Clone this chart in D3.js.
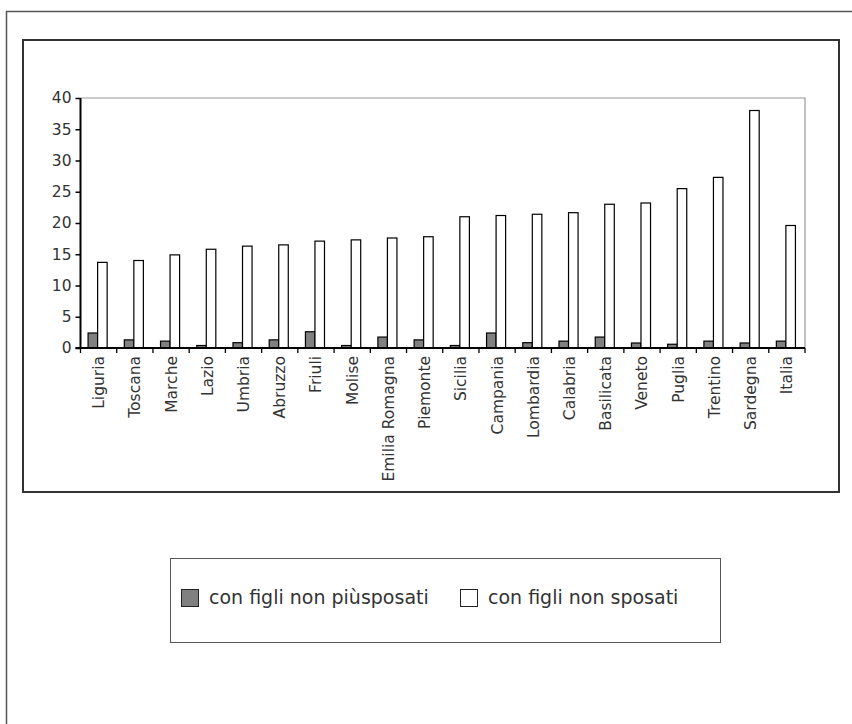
<!DOCTYPE html>
<html>
<head>
<meta charset="utf-8">
<script src="https://cdn.jsdelivr.net/npm/d3@7"></script>
<style>
  html, body { margin: 0; padding: 0; background: #fff; }
  svg { display: block; font-family: "DejaVu Sans", Verdana, sans-serif; }
</style>
</head>
<body>
<svg id="chart" width="852" height="724"></svg>
<script>
// Regions, ordered by share of households with unmarried children
const regions = ["Liguria", "Toscana", "Marche", "Lazio", "Umbria", "Abruzzo", "Friuli", "Molise",
  "Emilia Romagna", "Piemonte", "Sicilia", "Campania", "Lombardia", "Calabria", "Basilicata",
  "Veneto", "Puglia", "Trentino", "Sardegna", "Italia"];

const seriesNames = ["con figli non piùsposati", "con figli non sposati"];

const nonPiuSposati = [2.4, 1.3, 1.1, 0.4, 0.85, 1.3, 2.6, 0.4, 1.75, 1.3,
  0.4, 2.4, 0.85, 1.1, 1.75, 0.8, 0.6, 1.1, 0.8, 1.1];

const nonSposati = [13.7, 14.0, 14.9, 15.8, 16.3, 16.5, 17.1, 17.3, 17.6, 17.8,
  21.0, 21.2, 21.4, 21.65, 23.0, 23.2, 25.5, 27.3, 38.0, 19.6];

const yTicks = [0, 5, 10, 15, 20, 25, 30, 35, 40];

const fills = ["#808080", "#ffffff"];

const svg = d3.select("#chart");

// page frame (runs off the right and bottom edges)
svg.append("rect")
  .attr("x", 6.5).attr("y", 11.5).attr("width", 900).attr("height", 800)
  .attr("fill", "none").attr("stroke", "#555").attr("stroke-width", 1.5);

// chart area frame
svg.append("rect")
  .attr("x", 23).attr("y", 40).attr("width", 816).attr("height", 452)
  .attr("fill", "none").attr("stroke", "#333").attr("stroke-width", 2);

const plot = { left: 80.5, right: 805, top: 98, bottom: 348 };

const x0 = d3.scaleBand().domain(regions).range([plot.left, plot.right]).paddingInner(0).paddingOuter(0);
const x1 = d3.scaleBand().domain(seriesNames).range([0, x0.bandwidth()]).paddingInner(0).paddingOuter(0.9);
const y = d3.scaleLinear().domain([0, 40]).range([plot.bottom, plot.top]);

// plot box: grey top and right edges
svg.append("path")
  .attr("d", `M${plot.left},${plot.top}H${plot.right}V${plot.bottom}`)
  .attr("fill", "none").attr("stroke", "#999").attr("stroke-width", 1.2);

const rows = regions.map((r, i) => ({ region: r, values: [nonPiuSposati[i], nonSposati[i]] }));

const groups = svg.append("g").selectAll("g")
  .data(rows).join("g")
  .attr("transform", d => `translate(${x0(d.region) - 1},0)`);

groups.selectAll("rect")
  .data(d => d.values.map((v, k) => ({ key: seriesNames[k], v, k })))
  .join("rect")
  .attr("x", d => x1(d.key))
  .attr("y", d => y(d.v))
  .attr("width", x1.bandwidth())
  .attr("height", d => y(0) - y(d.v))
  .attr("fill", d => fills[d.k])
  .attr("stroke", "#000")
  .attr("stroke-width", 1.2);

// y axis
const yAxis = svg.append("g")
  .attr("transform", `translate(${plot.left},0)`)
  .call(d3.axisLeft(y).tickValues(yTicks).tickSize(5).tickPadding(4).tickFormat(d3.format("d")));
yAxis.select(".domain").attr("stroke", "#000").attr("stroke-width", 2).attr("d", `M0,${plot.top}V${plot.bottom}`);
yAxis.selectAll(".tick line").attr("stroke", "#000").attr("stroke-width", 1.5);
yAxis.selectAll(".tick text")
  .attr("fill", "#333")
  .attr("font-size", null).attr("font-family", null)
  .style("font-size", "15.5px").style("font-family", "'DejaVu Sans', sans-serif");
yAxis.attr("font-size", null).attr("font-family", null);

// x axis: baseline with tick marks between categories
const xAxis = svg.append("g");
xAxis.append("line")
  .attr("x1", plot.left - 5).attr("x2", plot.right)
  .attr("y1", plot.bottom).attr("y2", plot.bottom)
  .attr("stroke", "#000").attr("stroke-width", 2.2);
const boundaries = regions.map(r => x0(r)).concat([x0(regions[regions.length - 1]) + x0.bandwidth()]);
xAxis.selectAll("line.tk")
  .data(boundaries).join("line")
  .attr("class", "tk")
  .attr("x1", d => d).attr("x2", d => d)
  .attr("y1", plot.bottom).attr("y2", plot.bottom + 5)
  .attr("stroke", "#000").attr("stroke-width", 1.3);

xAxis.selectAll("text")
  .data(regions).join("text")
  .attr("transform", d => `translate(${x0(d) + x0.bandwidth() / 2},${plot.bottom + 8}) rotate(-90)`)
  .attr("text-anchor", "end")
  .attr("dy", "0.35em")
  .attr("fill", "#333")
  .style("font-size", "15.5px")
  .text(d => d);

// legend
const legend = svg.append("g");
legend.append("rect")
  .attr("x", 170.5).attr("y", 558.5).attr("width", 550).attr("height", 84)
  .attr("fill", "none").attr("stroke", "#555").attr("stroke-width", 1);

const legendX = [181, 460];
seriesNames.forEach((name, k) => {
  legend.append("rect")
    .attr("x", legendX[k] + 0.5).attr("y", 589.5).attr("width", 17).attr("height", 17)
    .attr("fill", fills[k]).attr("stroke", "#222").attr("stroke-width", 1);
  legend.append("text")
    .attr("x", legendX[k] + 28).attr("y", 604)
    .attr("fill", "#333")
    .style("font-size", "19px")
    .text(name);
});
</script>
</body>
</html>
